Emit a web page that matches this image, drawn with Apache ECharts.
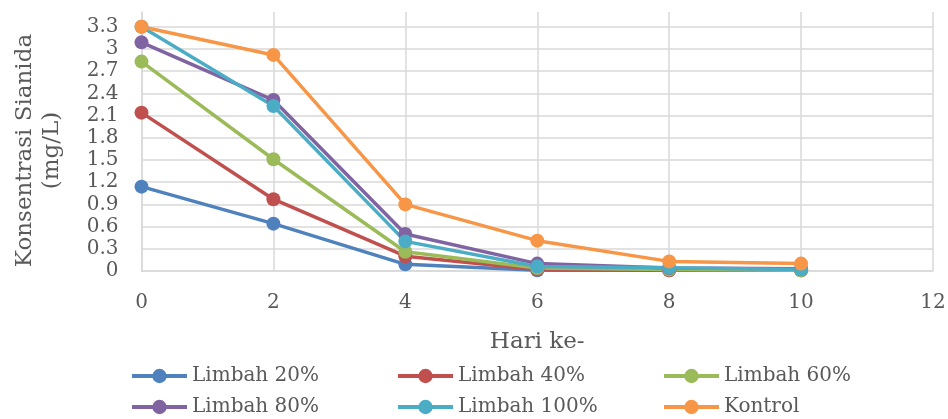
<!DOCTYPE html>
<html>
<head>
<meta charset="utf-8">
<script src="https://cdn.jsdelivr.net/npm/echarts@6/dist/echarts.min.js"></script>
<style>
  html, body { margin: 0; padding: 0; background: #fff; }
  #chart { width: 948px; height: 419px; }
</style>
</head>
<body>
<div id="chart"></div>
<script>
// data
var days = [0, 2, 4, 6, 8, 10];
var seriesNames = ["Limbah 20%", "Limbah 40%", "Limbah 60%", "Limbah 80%", "Limbah 100%", "Kontrol"];
var limbah20 = [1.14, 0.64, 0.09, 0.01, 0.01, 0.01];
var limbah40 = [2.14, 0.97, 0.20, 0.02, 0.01, 0.01];
var limbah60 = [2.83, 1.51, 0.26, 0.04, 0.02, 0.01];
var limbah80 = [3.09, 2.31, 0.50, 0.10, 0.04, 0.03];
var limbah100 = [3.30, 2.23, 0.40, 0.06, 0.045, 0.02];
var kontrol = [3.30, 2.92, 0.90, 0.41, 0.13, 0.10];
var allValues = [limbah20, limbah40, limbah60, limbah80, limbah100, kontrol];
var colors = ["#4F81BD", "#C0504D", "#9BBB59", "#8064A2", "#4BACC6", "#F79646"];

var font = "'DejaVu Serif', serif";
var textColor = "#595959";
var gridColor = "#d9d9d9";

(function () {
  var myChart = echarts.init(document.getElementById('chart'));

  var series = seriesNames.map(function (name, i) {
    return {
      name: name,
      type: 'line',
      data: days.map(function (d, j) { return [d, allValues[i][j]]; }),
      symbol: 'circle',
      symbolSize: 14,
      lineStyle: { width: 3.5, color: colors[i] },
      itemStyle: { color: colors[i] },
      clip: false
    };
  });

  // 三列图例，每列两项
  function legendCol(left, names) {
    return {
      orient: 'vertical',
      left: left,
      top: 366,
      height: 53,
      itemWidth: 55,
      itemHeight: 18,
      itemGap: 11,
      padding: 0,
      lineStyle: { width: 4 },
      data: names,
      textStyle: { fontFamily: font, fontSize: 20, lineHeight: 18, color: textColor }
    };
  }

  var option = {
    animation: false,
    color: colors,
    grid: { left: 141.5, right: 15, top: 12, bottom: 148, outerBoundsMode: 'none' },
    xAxis: {
      type: 'value',
      min: 0,
      max: 12,
      interval: 2,
      name: 'Hari ke-',
      nameLocation: 'middle',
      nameGap: 60,
      nameTextStyle: { fontFamily: font, fontSize: 23, color: textColor },
      axisLine: { lineStyle: { color: gridColor, width: 1.5 } },
      axisTick: { show: false },
      axisLabel: { fontFamily: font, fontSize: 20, color: textColor, margin: 22 },
      splitLine: { show: true, lineStyle: { color: gridColor, width: 1.5 } }
    },
    yAxis: {
      type: 'value',
      min: 0,
      max: 3.5,
      interval: 0.3,
      name: 'Konsentrasi Sianida\n(mg/L)',
      nameLocation: 'middle',
      nameGap: 76,
      nameTextStyle: {
        fontFamily: font, fontSize: 23, color: textColor, lineHeight: 27,
        padding: [0, 18, 0, 0]
      },
      axisLine: { show: true, lineStyle: { color: gridColor, width: 1.5 } },
      axisTick: { show: false },
      axisLabel: {
        fontFamily: font, fontSize: 20, color: textColor, margin: 23,
        showMaxLabel: false,
        formatter: function (v) { return String(Math.round(v * 10) / 10); }
      },
      splitLine: { show: true, showMaxLine: false, lineStyle: { color: gridColor, width: 1.5 } }
    },
    legend: [
      legendCol(130, [seriesNames[0], seriesNames[3]]),
      legendCol(396, [seriesNames[1], seriesNames[4]]),
      legendCol(662, [seriesNames[2], seriesNames[5]])
    ],
    series: series
  };

  myChart.setOption(option);
  window.addEventListener('resize', function () {
    myChart.resize();
  });
})();
</script>
</body>
</html>
